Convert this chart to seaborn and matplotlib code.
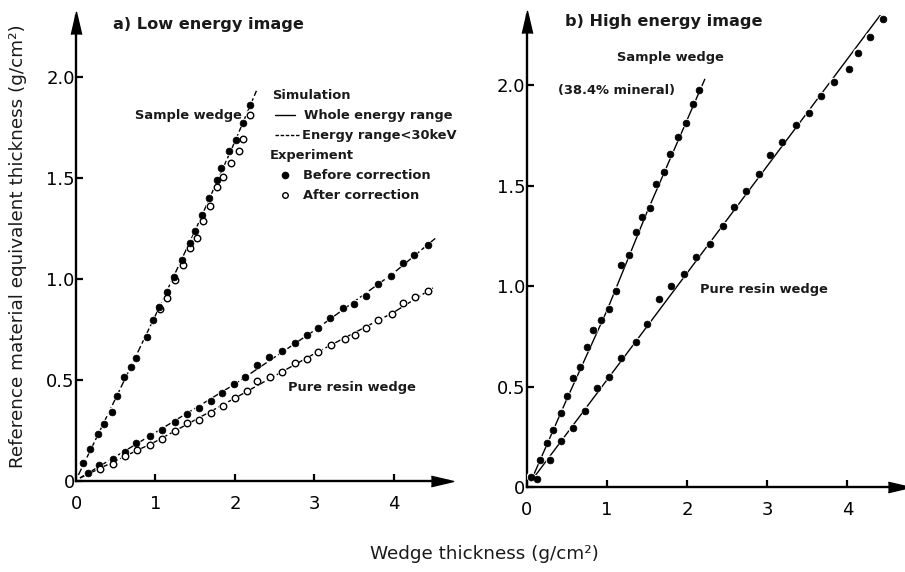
import matplotlib
matplotlib.use("Agg")
import matplotlib.pyplot as plt
import numpy as np
import pandas as pd
import seaborn as sns

# ---------------- data ----------------
# a) Low energy image
low_sample_x = [0.09, 0.17, 0.28, 0.35, 0.45, 0.52, 0.60, 0.69, 0.76, 0.89, 0.97, 1.05, 1.15,
                1.23, 1.33, 1.43, 1.50, 1.59, 1.67, 1.77, 1.83, 1.93, 2.01, 2.10, 2.19]
low_sample_before = [0.088, 0.158, 0.233, 0.282, 0.340, 0.420, 0.516, 0.563, 0.607, 0.711, 0.794,
                     0.863, 0.937, 1.011, 1.094, 1.177, 1.239, 1.317, 1.399, 1.490, 1.548, 1.630,
                     1.688, 1.771, 1.861]
low_sample_after_x = [1.06, 1.14, 1.24, 1.35, 1.44, 1.52, 1.60, 1.69, 1.77, 1.85, 1.95, 2.05, 2.10, 2.19]
low_sample_after = [0.850, 0.904, 0.995, 1.069, 1.152, 1.201, 1.284, 1.358, 1.454, 1.503, 1.573,
                    1.630, 1.692, 1.812]

low_resin_x = [0.15, 0.29, 0.46, 0.61, 0.76, 0.925, 1.08, 1.24, 1.40, 1.55, 1.70, 1.84, 1.99,
               2.13, 2.28, 2.43, 2.59, 2.75, 2.90, 3.05, 3.20, 3.36, 3.50, 3.65, 3.80, 3.96,
               4.11, 4.25, 4.43]
low_resin_before = [0.038, 0.078, 0.109, 0.144, 0.187, 0.223, 0.252, 0.294, 0.330, 0.360, 0.394,
                    0.434, 0.480, 0.515, 0.574, 0.611, 0.642, 0.681, 0.723, 0.759, 0.805, 0.855,
                    0.876, 0.917, 0.974, 1.015, 1.078, 1.119, 1.165]
low_resin_after_x = [0.30, 0.46, 0.61, 0.77, 0.925, 1.08, 1.25, 1.40, 1.55, 1.70, 1.85, 2.00,
                     2.15, 2.28, 2.44, 2.59, 2.75, 2.90, 3.05, 3.21, 3.38, 3.51, 3.65, 3.80,
                     3.97, 4.12, 4.27, 4.43]
low_resin_after = [0.058, 0.084, 0.124, 0.152, 0.180, 0.208, 0.249, 0.286, 0.302, 0.335, 0.373,
                   0.409, 0.446, 0.495, 0.516, 0.541, 0.583, 0.604, 0.640, 0.673, 0.703, 0.721,
                   0.757, 0.795, 0.825, 0.880, 0.908, 0.942]

# simulated responses
low_sim_sample_x = [0.03, 0.50, 1.00, 1.50, 2.00, 2.27]
low_sim_sample_y = [0.03, 0.41, 0.82, 1.24, 1.68, 1.93]
low_sim_resin_hi_x = [0.05, 1.00, 2.00, 3.00, 4.00, 4.52]
low_sim_resin_hi_y = [0.015, 0.24, 0.48, 0.745, 1.03, 1.20]
low_sim_resin_lo_x = [0.05, 1.00, 2.00, 3.00, 4.00, 4.49]
low_sim_resin_lo_y = [0.015, 0.195, 0.41, 0.63, 0.835, 0.955]

# b) High energy image
high_sample_x = [0.05, 0.16, 0.25, 0.33, 0.43, 0.50, 0.58, 0.66, 0.75, 0.83, 0.92, 1.03, 1.11,
                 1.17, 1.28, 1.36, 1.43, 1.53, 1.61, 1.71, 1.79, 1.88, 1.98, 2.07, 2.15]
high_sample_y = [0.051, 0.134, 0.220, 0.284, 0.370, 0.453, 0.541, 0.599, 0.695, 0.781, 0.831,
                 0.884, 0.977, 1.104, 1.154, 1.270, 1.345, 1.391, 1.507, 1.569, 1.657, 1.743,
                 1.812, 1.909, 1.979]
high_resin_x = [0.12, 0.29, 0.43, 0.57, 0.73, 0.88, 1.03, 1.17, 1.36, 1.50, 1.65, 1.80, 1.96,
                2.11, 2.28, 2.45, 2.59, 2.73, 2.90, 3.03, 3.18, 3.36, 3.52, 3.67, 3.83, 4.02,
                4.13, 4.28, 4.45]
high_resin_y = [0.038, 0.134, 0.230, 0.292, 0.380, 0.494, 0.546, 0.643, 0.723, 0.814, 0.934,
                1.000, 1.060, 1.146, 1.212, 1.300, 1.395, 1.474, 1.557, 1.652, 1.718, 1.804,
                1.864, 1.947, 2.015, 2.080, 2.162, 2.240, 2.328]

high_sim_sample_x = [0.05, 0.50, 1.00, 1.50, 2.22]
high_sim_sample_y = [0.03, 0.44, 0.88, 1.37, 2.03]
high_sim_resin_x = [0.11, 4.45]
high_sim_resin_y = [0.06, 2.37]

x_ticks = [0, 1, 2, 3, 4]
x_ticklabels = ["0", "1", "2", "3", "4"]
y_ticks = [0, 0.5, 1.0, 1.5, 2.0]
y_ticklabels = ["0", "0.5", "1.0", "1.5", "2.0"]

# ---------------- style ----------------
sns.set_theme(style="ticks")
plt.rcParams["font.family"] = ["DejaVu Sans"]

fig = plt.figure(figsize=(9.05, 5.72), dpi=100)
axL = fig.add_axes([0.0840, 0.1591, 0.4110, 0.8129])
axR = fig.add_axes([0.5823, 0.1486, 0.4177, 0.8252])

arrow_up = [(-1.4, -3.0), (0.0, 3.0), (1.4, -3.0)]
arrow_right = [(-3.0, -1.4), (3.0, 0.0), (-3.0, 1.4)]


def sim_line(ax, xs, ys, ls):
    df = pd.DataFrame({"x": xs, "y": ys})
    sns.lineplot(data=df, x="x", y="y", ax=ax, color="black", lw=1.0,
                 linestyle=ls, sort=False, zorder=2)


def dots(ax, xs, ys, filled=True):
    df = pd.DataFrame({"x": xs, "y": ys})
    # white halo so that the line is broken around every point
    sns.scatterplot(data=df, x="x", y="y", ax=ax, s=42, color="white",
                    edgecolor="none", linewidth=0, zorder=3)
    if filled:
        sns.scatterplot(data=df, x="x", y="y", ax=ax, s=24, color="black",
                        edgecolor="black", linewidth=0.5, zorder=4)
    else:
        sns.scatterplot(data=df, x="x", y="y", ax=ax, s=22, color="white",
                        edgecolor="black", linewidth=1.0, zorder=4)


def frame(ax, xmax, ymax):
    ax.set_xlim(0, xmax)
    ax.set_ylim(0, ymax)
    for side in ("top", "right"):
        ax.spines[side].set_visible(False)
    for side in ("left", "bottom"):
        ax.spines[side].set_linewidth(1.7)
        ax.spines[side].set_color("black")
    ax.set_xticks(x_ticks)
    ax.set_xticklabels(x_ticklabels)
    ax.set_yticks(y_ticks)
    ax.set_yticklabels(y_ticklabels)
    ax.tick_params(axis="both", direction="in", length=5, width=1.6, colors="black",
                   labelsize=13)
    ax.tick_params(axis="x", pad=10)
    ax.tick_params(axis="y", pad=1)
    ax.set_xlabel("")
    ax.set_ylabel("")
    ax.patch.set_alpha(0)
    # arrow heads at the ends of both axes
    ax.plot(0, 0.985, marker=arrow_up, ms=16, color="black",
            transform=ax.transAxes, clip_on=False)
    ax.plot(0.985, 0, marker=arrow_right, ms=16, color="black",
            transform=ax.transAxes, clip_on=False)


# ---- a) low energy ----
sim_line(axL, low_sim_sample_x, low_sim_sample_y, (0, (5, 2)))
sim_line(axL, low_sim_resin_hi_x, low_sim_resin_hi_y, (0, (6, 2)))
sim_line(axL, low_sim_resin_lo_x, low_sim_resin_lo_y, (0, (6, 2)))
dots(axL, low_sample_after_x, low_sample_after, filled=False)
dots(axL, low_sample_x, low_sample_before, filled=True)
dots(axL, low_resin_x, low_resin_before, filled=True)
dots(axL, low_resin_after_x, low_resin_after, filled=False)

# ---- b) high energy ----
sim_line(axR, high_sim_sample_x, high_sim_sample_y, "-")
sim_line(axR, high_sim_resin_x, high_sim_resin_y, "-")
dots(axR, high_sample_x, high_sample_y, filled=True)
dots(axR, high_resin_x, high_resin_y, filled=True)

frame(axL, 4.68, 2.30)
frame(axR, 4.72, 2.35)

txt = dict(fontsize=9.4, fontweight="bold", color="#1a1a1a", va="center")
ttl = dict(fontsize=11.6, fontweight="bold", color="#1a1a1a", va="center", ha="left")

axL.text(0.465, 2.257, "a) Low energy image", **ttl)
axL.text(0.74, 1.81, "Sample wedge", ha="left", **txt)
axL.text(2.67, 0.46, "Pure resin wedge", ha="left", **txt)

# key
T = axL.transAxes
axL.text(0.527, 0.830, "Simulation", transform=T, ha="left", clip_on=False, **txt)
axL.plot([0.535, 0.589], [0.787, 0.787], transform=T, color="black", lw=1.0, clip_on=False)
axL.text(0.613, 0.787, "Whole energy range", transform=T, ha="left", clip_on=False, **txt)
axL.plot([0.535, 0.600], [0.744, 0.744], transform=T, color="black", lw=1.0,
         linestyle=(0, (2.5, 1.2)), clip_on=False)
axL.text(0.608, 0.744, "Energy range<30keV", transform=T, ha="left", clip_on=False, **txt)
axL.text(0.522, 0.701, "Experiment", transform=T, ha="left", clip_on=False, **txt)
axL.plot([0.562], [0.658], transform=T, marker="o", ms=4.5, color="black", clip_on=False)
axL.text(0.610, 0.658, "Before correction", transform=T, ha="left", clip_on=False, **txt)
axL.plot([0.562], [0.615], transform=T, marker="o", ms=4.0, mfc="white", mec="black",
         mew=1.0, clip_on=False)
axL.text(0.610, 0.615, "After correction", transform=T, ha="left", clip_on=False, **txt)

axR.text(0.475, 2.32, "b) High energy image", **ttl)
axR.text(1.125, 2.14, "Sample wedge", ha="left", **txt)
axR.text(0.39, 1.975, "(38.4% mineral)", ha="left", **txt)
axR.text(2.16, 0.985, "Pure resin wedge", ha="left", **txt)

# shared axis titles
fig.text(0.020, 0.570, "Reference material equivalent thickness (g/cm\u00b2)",
         rotation=90, ha="center", va="center", fontsize=13.2, color="#1a1a1a")
fig.text(0.535, 0.016, "Wedge thickness (g/cm\u00b2)", ha="center", va="bottom",
         fontsize=13.2, color="#1a1a1a")

fig.savefig("out.png", dpi=100, facecolor="white")
